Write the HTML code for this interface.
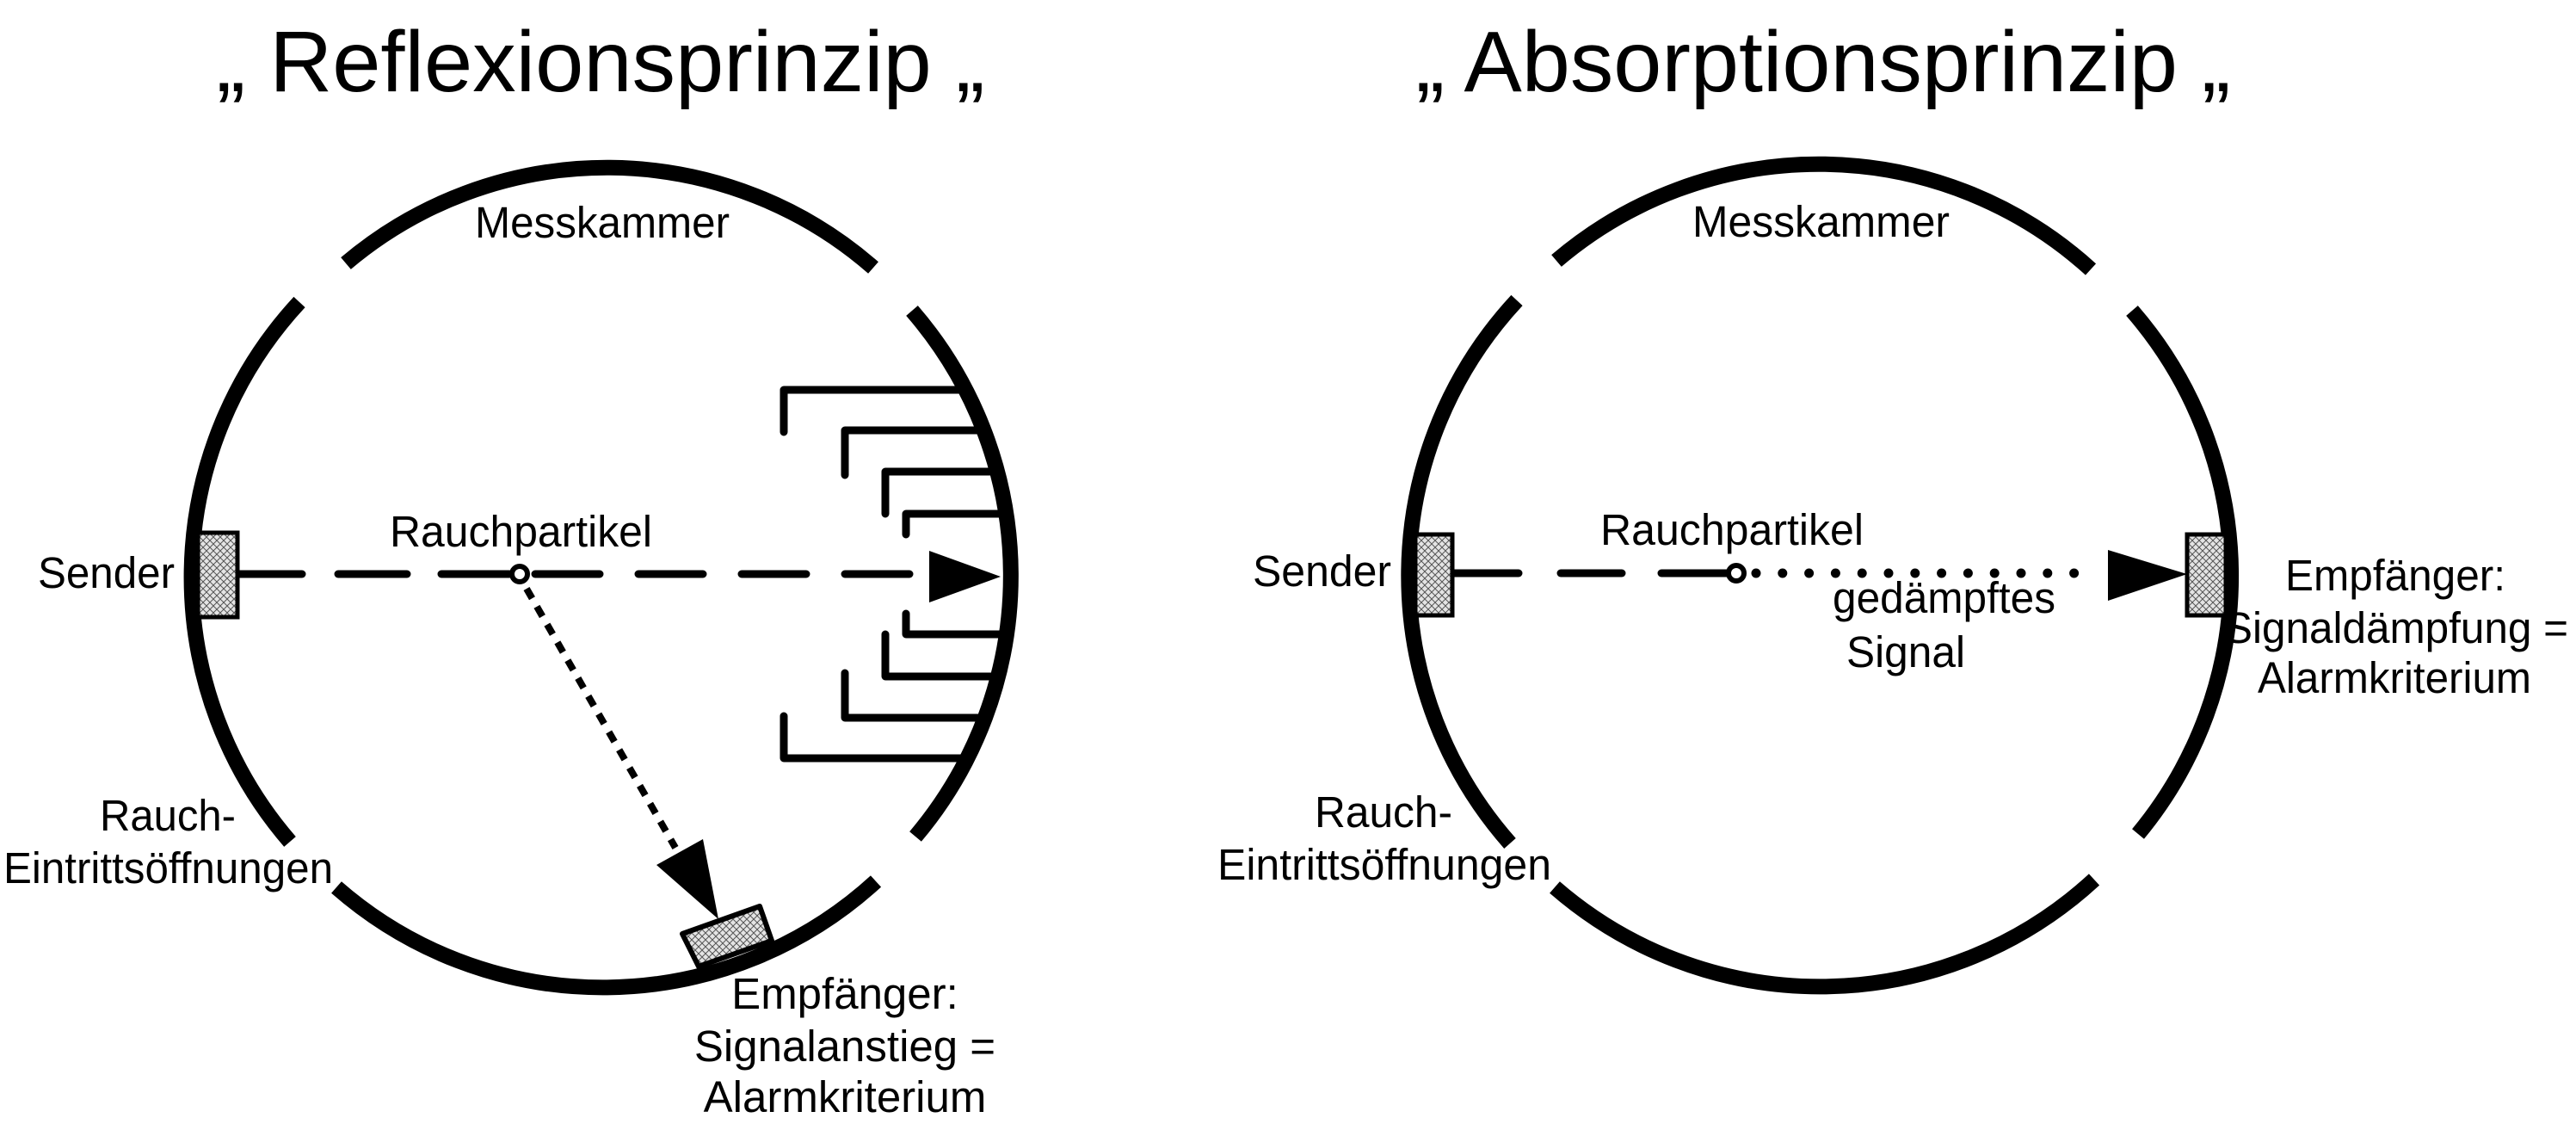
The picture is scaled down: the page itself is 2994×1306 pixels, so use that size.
<!DOCTYPE html>
<html><head><meta charset="utf-8"><style>html,body{margin:0;padding:0;background:#fff}svg{display:block}text{font-family:"Liberation Sans",Arial,sans-serif;fill:#000}</style></head>
<body>
<svg width="2994" height="1306" viewBox="0 0 2994 1306" xmlns="http://www.w3.org/2000/svg">
<defs>
<pattern id="h" width="8" height="8" patternUnits="userSpaceOnUse">
<rect width="8" height="8" fill="#e4e4e4"/>
<path d="M0 0L8 8M8 0L0 8" stroke="#555" stroke-width="1"/>
</pattern>
<clipPath id="cl"><circle cx="702" cy="667" r="470"/></clipPath>
</defs>

<text x="698" y="106" font-size="100" text-anchor="middle" textLength="893" lengthAdjust="spacingAndGlyphs">„ Reflexionsprinzip „</text>
<text x="2119" y="106" font-size="100" text-anchor="middle" textLength="947" lengthAdjust="spacingAndGlyphs">„ Absorptionsprinzip „</text>

<g fill="none" stroke="#000" stroke-width="18">
<path d="M402 306 A470 470 0 0 1 1015 311"/>
<path d="M348 351 A470 470 0 0 0 337 978"/>
<path d="M391 1031 A470 470 0 0 0 1018 1024"/>
<path d="M1060 361 A470 470 0 0 1 1064 972"/>
<path d="M1809 303 A470 470 0 0 1 2430 313"/>
<path d="M1763 349 A470 470 0 0 0 1755 980"/>
<path d="M1807 1031 A470 470 0 0 0 2434 1022"/>
<path d="M2478 361 A470 470 0 0 1 2485 969"/>
</g>

<g clip-path="url(#cl)" fill="none" stroke="#000" stroke-width="9" stroke-linecap="round" stroke-linejoin="round">
<path d="M911 502V453H1300"/>
<path d="M982 552V500H1300"/>
<path d="M1029 597V548H1300"/>
<path d="M1053 621V597H1300"/>
<path d="M1053 713V737H1300"/>
<path d="M1029 737V786H1300"/>
<path d="M982 782V834H1300"/>
<path d="M911 832V881H1300"/>
</g>

<g stroke="#000" stroke-width="9" stroke-linecap="round" fill="none">
<line x1="276" y1="667" x2="351" y2="667"/>
<line x1="393" y1="667" x2="473" y2="667"/>
<line x1="513" y1="667" x2="592" y2="667"/>
<line x1="618" y1="667" x2="1080" y2="667" stroke-dasharray="75 45" stroke-dashoffset="-4"/>
</g>
<polygon points="1080,640 1080,700 1163,670" fill="#000"/>
<line x1="612" y1="684" x2="785" y2="985" stroke="#000" stroke-width="8" stroke-dasharray="13 11"/>
<polygon points="763,1005 817,975 835,1068" fill="#000"/>
<polygon points="793,1085 883,1053 897,1093 812,1123" fill="url(#h)" stroke="#000" stroke-width="6" stroke-linejoin="round"/>
<rect x="230" y="619" width="46" height="98" fill="url(#h)" stroke="#000" stroke-width="5"/>
<circle cx="604" cy="667" r="9" fill="#fff" stroke="#000" stroke-width="6"/>

<g stroke="#000" stroke-width="9" stroke-linecap="round" fill="none">
<line x1="1688" y1="666" x2="1765" y2="666"/>
<line x1="1814" y1="666" x2="1885" y2="666"/>
<line x1="1931" y1="666" x2="2008" y2="666"/>
<line x1="2041" y1="666" x2="2440" y2="666" stroke-width="11" stroke-dasharray="0 30.8"/>
</g>
<polygon points="2450,639 2450,698 2542,667" fill="#000"/>
<rect x="1645" y="621" width="43" height="94" fill="url(#h)" stroke="#000" stroke-width="5"/>
<rect x="2542" y="621" width="45" height="94" fill="url(#h)" stroke="#000" stroke-width="5"/>
<circle cx="2018" cy="666" r="9" fill="#fff" stroke="#000" stroke-width="6"/>

<g font-size="51">
<text x="552" y="276" textLength="296" lengthAdjust="spacingAndGlyphs">Messkammer</text>
<text x="44" y="683" textLength="159" lengthAdjust="spacingAndGlyphs">Sender</text>
<text x="453" y="635" textLength="305" lengthAdjust="spacingAndGlyphs">Rauchpartikel</text>
<text x="116" y="965" textLength="158" lengthAdjust="spacingAndGlyphs">Rauch-</text>
<text x="4" y="1026" textLength="383" lengthAdjust="spacingAndGlyphs">Eintrittsöffnungen</text>
<text x="982" y="1172" text-anchor="middle">Empfänger:</text>
<text x="982" y="1233" text-anchor="middle">Signalanstieg =</text>
<text x="982" y="1292" text-anchor="middle">Alarmkriterium</text>
</g>
<g font-size="51">
<text x="1967" y="275" textLength="299" lengthAdjust="spacingAndGlyphs">Messkammer</text>
<text x="1456" y="681" textLength="161" lengthAdjust="spacingAndGlyphs">Sender</text>
<text x="1860" y="633" textLength="306" lengthAdjust="spacingAndGlyphs">Rauchpartikel</text>
<text x="2130" y="712" textLength="259" lengthAdjust="spacingAndGlyphs">gedämpftes</text>
<text x="2146" y="775" textLength="138" lengthAdjust="spacingAndGlyphs">Signal</text>
<text x="2656" y="686" textLength="256" lengthAdjust="spacingAndGlyphs">Empfänger:</text>
<text x="2585" y="747" textLength="400" lengthAdjust="spacingAndGlyphs">Signaldämpfung =</text>
<text x="2624" y="805" textLength="318" lengthAdjust="spacingAndGlyphs">Alarmkriterium</text>
<text x="1528" y="961" textLength="160" lengthAdjust="spacingAndGlyphs">Rauch-</text>
<text x="1415" y="1022" textLength="388" lengthAdjust="spacingAndGlyphs">Eintrittsöffnungen</text>
</g>
</svg>
</body></html>
